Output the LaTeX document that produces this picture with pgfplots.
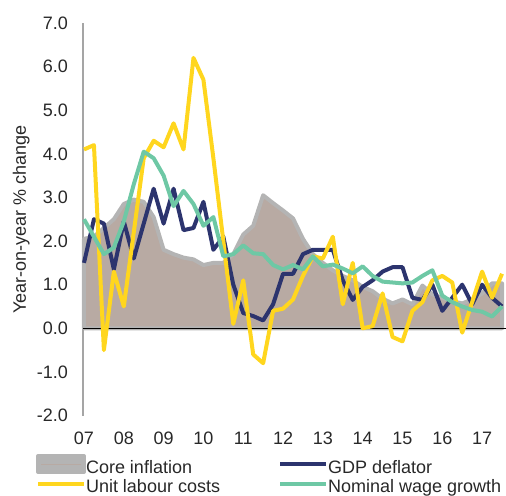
\documentclass[border=0pt]{standalone}
\usepackage{pgfplots}
\usepackage{pgfplotstable}
\pgfplotsset{compat=1.18}
\usepackage{fontspec}
\setmainfont{Liberation Sans}
\definecolor{navyc}{RGB}{44,52,110}
\definecolor{yellowc}{RGB}{255,214,30}
\definecolor{greenc}{RGB}{110,200,165}
\definecolor{corefill}{RGB}{184,170,163}
\definecolor{coreedge}{RGB}{180,180,180}
\definecolor{baseline}{RGB}{150,150,150}
\definecolor{axisgray}{RGB}{165,165,165}
\definecolor{txt}{RGB}{40,40,40}
\pgfplotstableread{
i core gdp ulc nwg
0 2.05 1.5 4.1 2.5
1 2.1 2.5 4.2 2.1
2 2.3 2.4 -0.5 1.7
3 2.5 1.35 1.3 1.85
4 2.85 2.45 0.5 2.45
5 2.95 1.6 2.2 3.3
6 2.9 2.4 3.9 4.05
7 2.55 3.2 4.3 3.9
8 1.8 2.4 4.15 3.5
9 1.7 3.2 4.7 2.8
10 1.62 2.25 4.1 3.15
11 1.58 2.3 6.2 2.85
12 1.45 2.9 5.7 2.35
13 1.5 1.8 3.9 2.55
14 1.5 2.1 2.0 1.65
15 1.7 1.0 0.1 1.7
16 2.15 0.35 1.1 1.9
17 2.35 0.28 -0.6 1.72
18 3.05 0.18 -0.8 1.7
19 2.87 0.55 0.4 1.45
20 2.7 1.25 0.45 1.35
21 2.52 1.25 0.66 1.45
22 2.05 1.7 1.2 1.35
23 1.7 1.8 1.65 1.65
24 1.5 1.8 1.6 1.42
25 1.33 1.8 2.1 1.46
26 1.2 1.1 0.55 1.37
27 1.1 0.65 1.5 1.26
28 0.95 0.95 0.0 1.42
29 0.85 1.1 0.05 1.2
30 0.68 1.3 0.8 1.07
31 0.57 1.4 -0.2 1.05
32 0.66 1.4 -0.3 1.03
33 0.55 0.7 0.4 1.05
34 0.98 0.65 0.6 1.2
35 0.78 1.0 1.1 1.33
36 0.7 0.4 1.2 0.75
37 0.62 0.7 1.05 0.6
38 0.57 1.0 -0.1 0.5
39 0.66 0.55 0.6 0.42
40 0.8 1.0 1.3 0.38
41 1.03 0.7 0.7 0.27
42 1.03 0.5 1.25 0.5
}\datatable
\begin{document}
\fontsize{18bp}{21bp}\selectfont
\begin{tikzpicture}
\begin{axis}[
  at={(0,0)}, anchor=south west,
  scale only axis, width=423bp, height=392.5bp,
  xmin=-0.1, xmax=42.4, ymin=-2, ymax=7,
  axis lines*=left,
  x axis line style={draw=none},
  y axis line style={draw=axisgray, line width=1.3bp},
  major tick length=0pt,
  xtick={0,4,8,12,16,20,24,28,32,36,40},
  xticklabels={07,08,09,10,11,12,13,14,15,16,17},
  ytick={-2,-1,0,1,2,3,4,5,6,7},
  yticklabels={-2.0,-1.0,0.0,1.0,2.0,3.0,4.0,5.0,6.0,7.0},
  ticklabel style={font=\fontsize{18bp}{21bp}\selectfont, text=txt, inner sep=0pt},
  yticklabel style={anchor=east, xshift=-15bp},
  xticklabel style={anchor=north, yshift=-16.5bp},
  ylabel={Year-on-year \% change},
  every axis y label/.style={at={(axis description cs:-0.1348,0.5)}, rotate=90, anchor=base, font=\fontsize{18bp}{21bp}\selectfont, text=txt},
  clip=false,
  legend columns=2,
  legend cell align=left,
  legend style={at={(axis description cs:-0.1111,-0.0981)}, anchor=north west, draw=none, fill=none, inner sep=0pt, outer sep=0pt,
    font=\fontsize{18bp}{21bp}\selectfont, text=txt,
    nodes={inner sep=0pt, text height=13bp, text depth=4bp},
    /tikz/every odd column/.append style={column sep=0bp},
    /tikz/every even column/.append style={column sep=58bp},
    row sep=2.5bp},
  legend image code/.code={\draw[#1] (0bp,4.5bp) -- (46bp,4.5bp);},
]
\addplot[fill=corefill, draw=coreedge, line width=4bp, line join=round,
  legend image code/.code={\fill[coreedge] (0bp,-3.5bp) rectangle (46bp,12.5bp); \draw[corefill, line width=1bp] (3bp,4.5bp) -- (43bp,4.5bp);}]
  table[x=i, y=core] {\datatable} \closedcycle;
\addlegendentry{Core inflation}
\draw[baseline, line width=1.5bp] (axis cs:-0.1,0) -- (axis cs:42.4,0);
\addplot[navyc, line width=4bp, line join=round] table[x=i, y=gdp] {\datatable};
\addlegendentry{GDP deflator}
\addplot[yellowc, line width=4bp, line join=round] table[x=i, y=ulc] {\datatable};
\addlegendentry{Unit labour costs}
\addplot[greenc, line width=4bp, line join=round] table[x=i, y=nwg] {\datatable};
\addlegendentry{Nominal wage growth}
\end{axis}
\pgfresetboundingbox
\useasboundingbox (-83bp,-80.5bp) rectangle (423bp,415.5bp);
\end{tikzpicture}
\end{document}
